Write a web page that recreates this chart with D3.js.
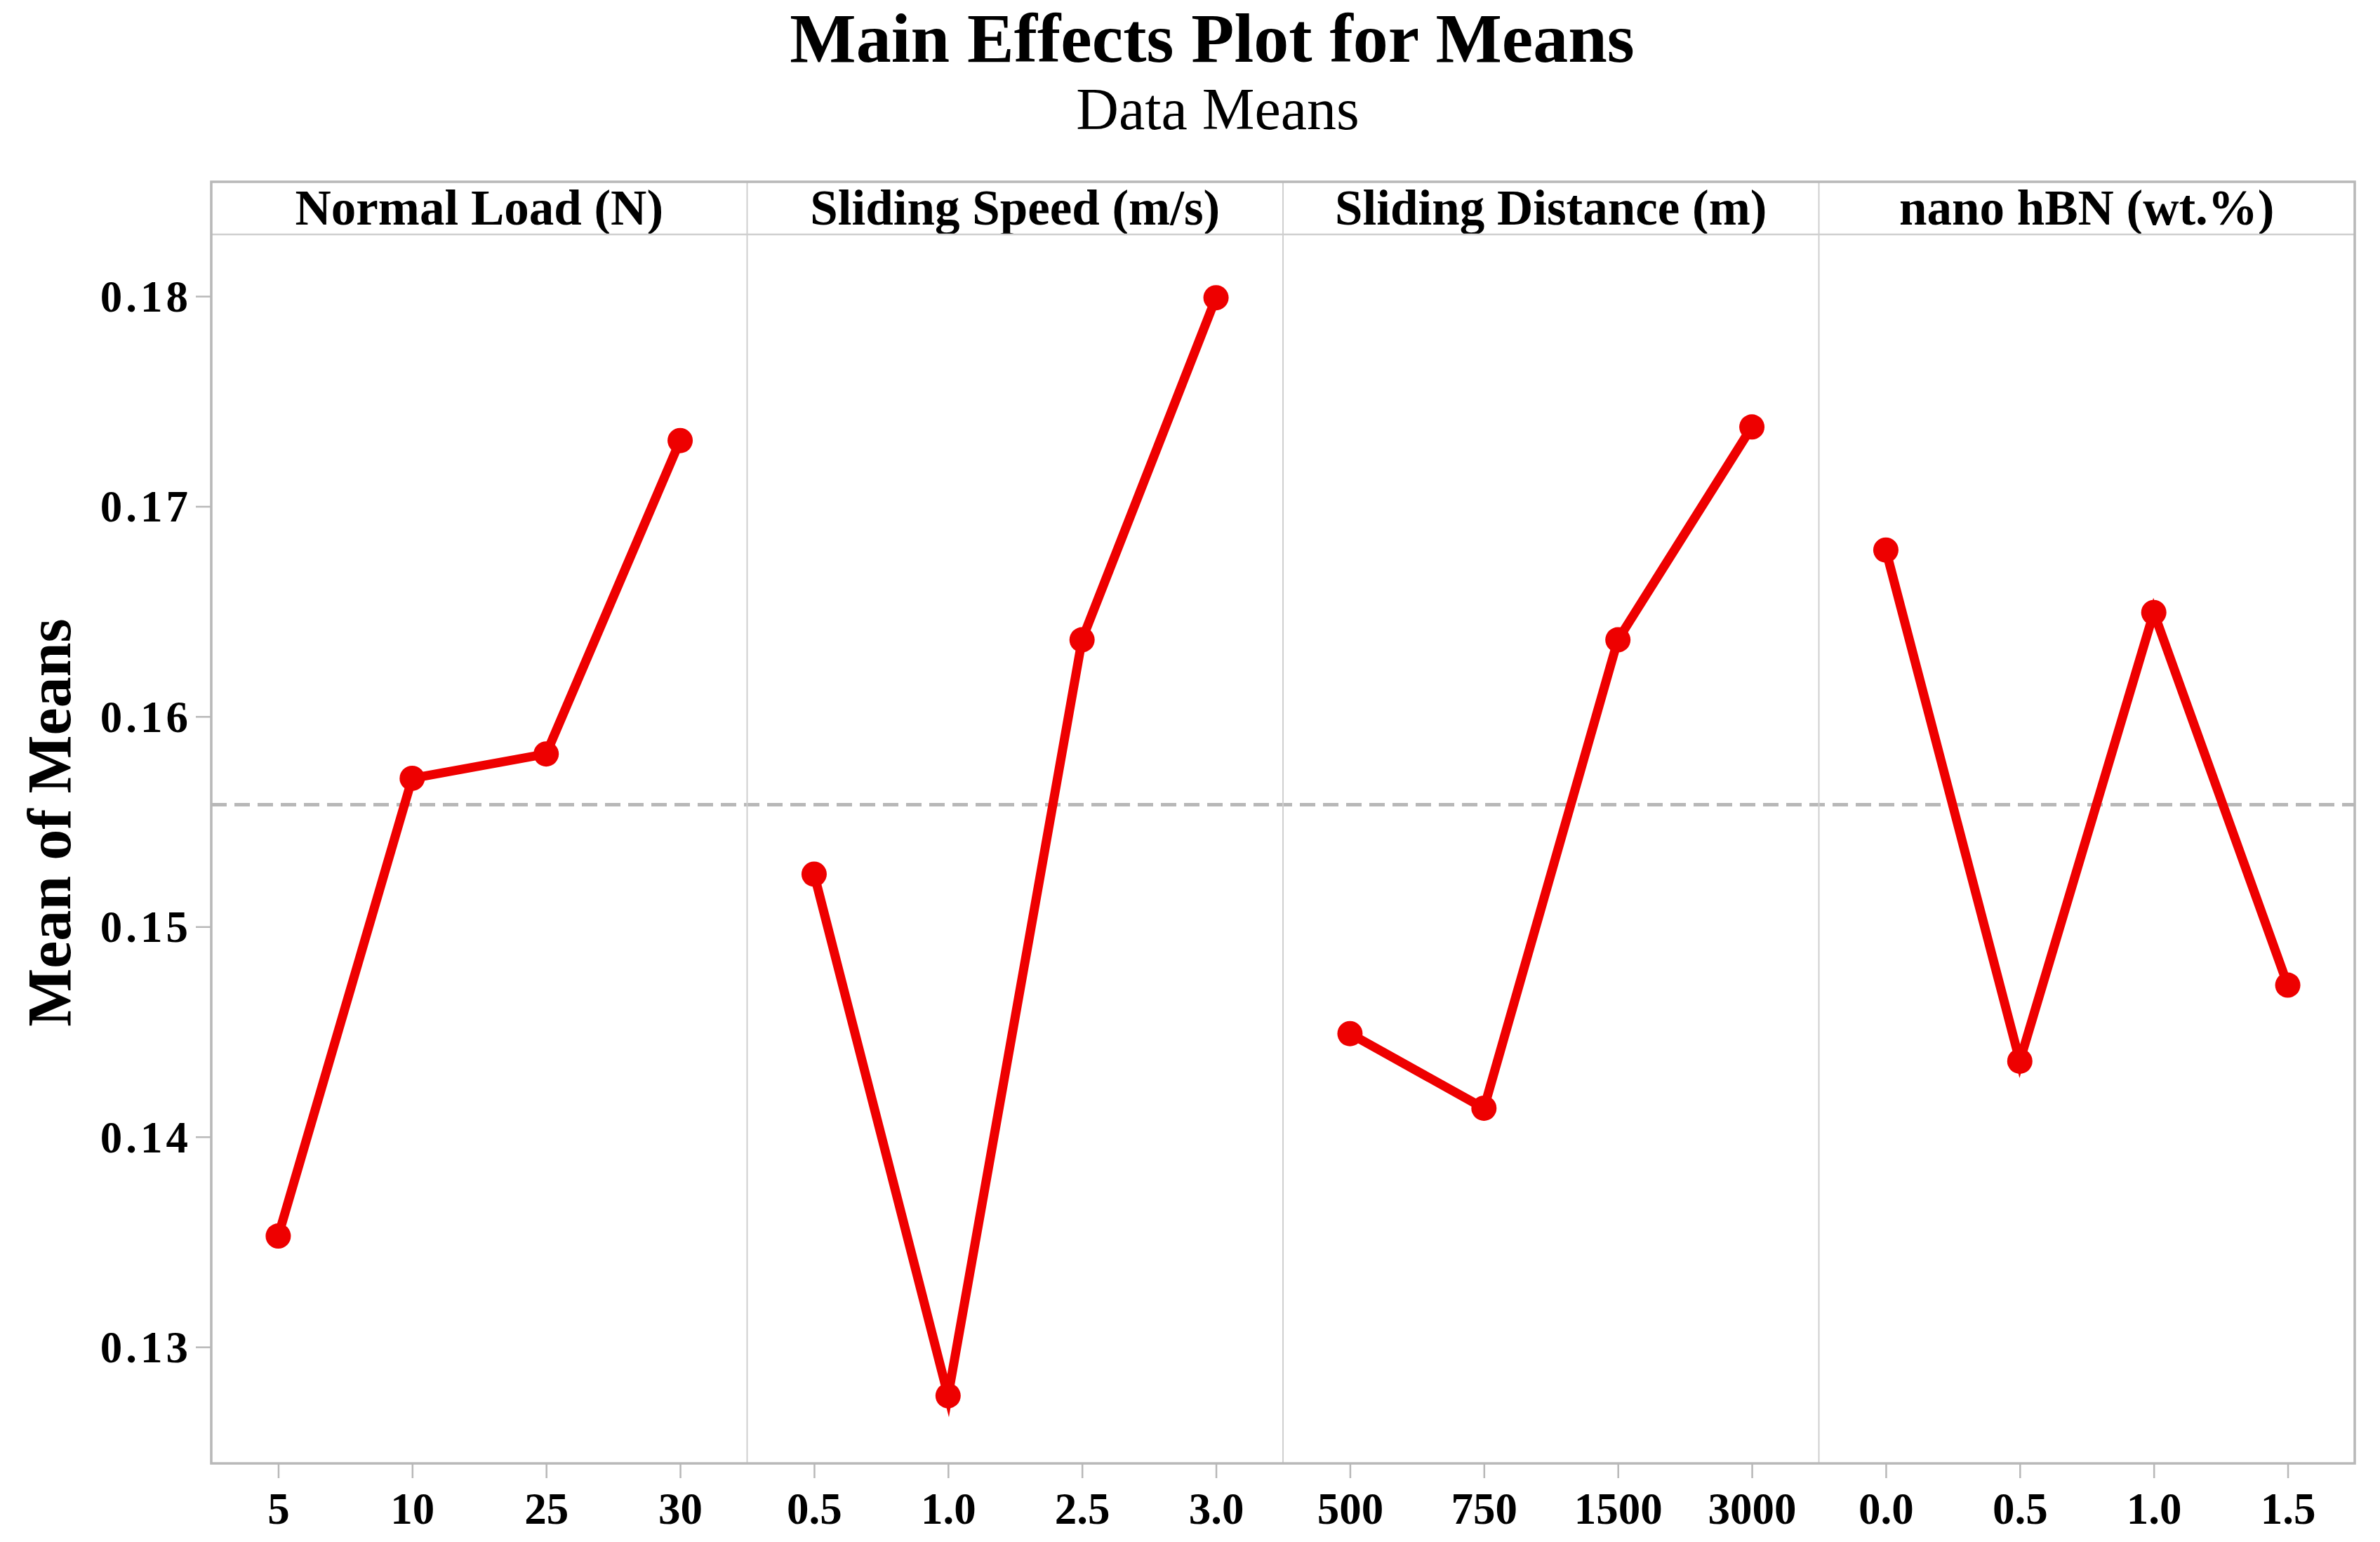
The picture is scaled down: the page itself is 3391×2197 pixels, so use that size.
<!DOCTYPE html>
<html>
<head>
<meta charset="utf-8">
<script src="https://cdn.jsdelivr.net/npm/d3@7"></script>
<style>
  body { margin: 0; background: #fff; }
  svg text { font-family: "Liberation Serif", "Times New Roman", serif; fill: #000; }
</style>
</head>
<body>
<div id="chart"></div>
<script>
// factor names, shown in the strip above each panel
const factors = ["Normal Load (N)", "Sliding Speed (m/s)", "Sliding Distance (m)", "nano hBN (wt.%)"];

// levels of each factor (x tick labels)
const levels = [
    ["5", "10", "25", "30"],
    ["0.5", "1.0", "2.5", "3.0"],
    ["500", "750", "1500", "3000"],
    ["0.0", "0.5", "1.0", "1.5"]
];

// mean of means at each level
const means = [
    [0.13528, 0.15706, 0.15822, 0.17313],
    [0.15250, 0.12768, 0.16365, 0.17993],
    [0.14491, 0.14136, 0.16365, 0.17378],
    [0.16792, 0.14360, 0.16495, 0.14722]
];

// overall mean (dashed reference line)
const grandMean = 0.1558;

const yTicks = [0.13, 0.14, 0.15, 0.16, 0.17, 0.18];

const width = 3391, height = 2197;
const frame = { left: 301, right: 3355, top: 259, strip: 334, bottom: 2085 };
const panelW = (frame.right - frame.left) / factors.length;
const red = '#ee0000', gray = '#b8b8b8', lightGray = '#cfcfcf';

const svg = d3.select('#chart')
    .append('svg')
    .attr('width', width)
    .attr('height', height);

// y scale shared by all panels
const y = d3.scaleLinear()
    .domain([0.12446, 0.18294])
    .range([frame.bottom, frame.strip]);

// titles
svg.append('text')
    .attr('x', 1727).attr('y', 88)
    .attr('text-anchor', 'middle')
    .style('font-size', '100px').style('font-weight', 'bold')
    .text('Main Effects Plot for Means');

svg.append('text')
    .attr('x', 1735).attr('y', 184)
    .attr('text-anchor', 'middle')
    .style('font-size', '84px')
    .text('Data Means');

// y axis label
svg.append('text')
    .attr('transform', `translate(100, ${(frame.top + frame.bottom) / 2}) rotate(-90)`)
    .attr('text-anchor', 'middle')
    .style('font-size', '88px').style('font-weight', 'bold')
    .text('Mean of Means');

// y axis
const yAxis = svg.append('g')
    .attr('transform', `translate(${frame.left}, 0)`)
    .call(d3.axisLeft(y).tickValues(yTicks).tickFormat(d3.format('.2f')).tickSize(22).tickPadding(6));
yAxis.select('.domain').remove();
yAxis.selectAll('.tick line').attr('stroke', gray).attr('stroke-width', 2.5);
yAxis.selectAll('.tick text')
    .attr('dy', '0.34em')
    .style('font-size', '63px').style('font-weight', 'bold').style('letter-spacing', '5px')
    .style('font-family', '"Liberation Serif", serif');

// mean reference line across all panels
svg.append('line')
    .attr('x1', frame.left).attr('x2', frame.right)
    .attr('y1', y(grandMean)).attr('y2', y(grandMean))
    .attr('stroke', gray).attr('stroke-width', 5)
    .attr('stroke-dasharray', '22,11');

// panels
factors.forEach((f, i) => {
    const x0 = frame.left + i * panelW;
    const g = svg.append('g').attr('transform', `translate(${x0}, 0)`);

    const x = d3.scalePoint()
        .domain(levels[i])
        .range([0, panelW])
        .padding(0.5);

    // strip label
    g.append('text')
        .attr('x', panelW / 2).attr('y', 320)
        .attr('text-anchor', 'middle')
        .style('font-size', '71px').style('font-weight', 'bold')
        .text(f);

    // x axis
    const xAxis = g.append('g')
        .attr('transform', `translate(0, ${frame.bottom})`)
        .call(d3.axisBottom(x).tickSize(21).tickPadding(20));
    xAxis.select('.domain').remove();
    xAxis.selectAll('.tick line').attr('stroke', gray).attr('stroke-width', 2.5);
    xAxis.selectAll('.tick text')
        .attr('dy', '0.71em')
        .style('font-size', '63px').style('font-weight', 'bold')
        .style('font-family', '"Liberation Serif", serif');

    const pts = levels[i].map((l, j) => ({ l, v: means[i][j] }));

    const line = d3.line()
        .x(d => x(d.l))
        .y(d => y(d.v));

    g.append('path')
        .datum(pts)
        .attr('d', line)
        .attr('fill', 'none')
        .attr('stroke', red)
        .attr('stroke-width', 13)
        .attr('stroke-linejoin', 'miter')
        .attr('stroke-miterlimit', 10);

    g.selectAll('.pt')
        .data(pts)
        .enter()
        .append('circle')
        .attr('class', 'pt')
        .attr('cx', d => x(d.l))
        .attr('cy', d => y(d.v))
        .attr('r', 18)
        .attr('fill', red);

    // panel separator
    if (i > 0) {
        svg.append('line')
            .attr('x1', x0).attr('x2', x0)
            .attr('y1', frame.top).attr('y2', frame.bottom)
            .attr('stroke', lightGray).attr('stroke-width', 2);
    }
});

// strip bottom line
svg.append('line')
    .attr('x1', frame.left).attr('x2', frame.right)
    .attr('y1', frame.strip).attr('y2', frame.strip)
    .attr('stroke', lightGray).attr('stroke-width', 2.5);

// outer frame
svg.append('rect')
    .attr('x', frame.left).attr('y', frame.top)
    .attr('width', frame.right - frame.left)
    .attr('height', frame.bottom - frame.top)
    .attr('fill', 'none')
    .attr('stroke', gray).attr('stroke-width', 3.5);
</script>
</body>
</html>
